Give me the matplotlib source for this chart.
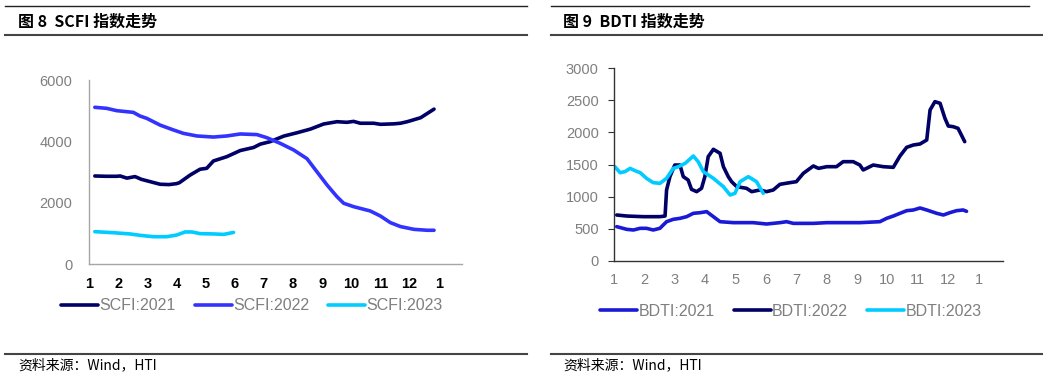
import numpy as np
import matplotlib
matplotlib.use('Agg')
import matplotlib.pyplot as plt
from matplotlib.lines import Line2D

plt.rcParams['font.family'] = ['Liberation Sans', 'Noto Sans CJK SC', 'DejaVu Sans']

month_labels = ['1', '2', '3', '4', '5', '6', '7', '8', '9', '10', '11', '12', '1']

# SCFI (x = months since Jan 1st)
scfi21_x = [0.2, 0.6, 0.95, 1.07, 1.3, 1.58, 1.8, 2.44, 2.75, 3.0, 3.1, 3.47, 3.81, 4.04, 4.27, 4.73, 5.19, 5.65, 5.88, 6.22, 6.68, 7.14, 7.6, 8.05, 8.51, 8.85, 9.08, 9.31, 9.77, 10.0, 10.46, 10.69, 10.92, 11.38, 11.84]
scfi21_y = [2870, 2860, 2860, 2870, 2800, 2850, 2760, 2600, 2590, 2620, 2650, 2900, 3090, 3120, 3360, 3500, 3700, 3800, 3910, 3990, 4170, 4280, 4400, 4565, 4640, 4620, 4650, 4590, 4590, 4555, 4570, 4590, 4640, 4770, 5050]

scfi22_x = [0.2, 0.61, 0.95, 1.52, 1.75, 1.98, 2.44, 2.9, 3.24, 3.7, 4.27, 4.73, 5.19, 5.76, 6.1, 6.56, 7.02, 7.48, 7.82, 8.17, 8.51, 8.74, 9.08, 9.65, 10.0, 10.34, 10.69, 11.15, 11.61, 11.84]
scfi22_y = [5110, 5075, 5000, 4945, 4825, 4750, 4530, 4370, 4260, 4175, 4140, 4175, 4240, 4220, 4120, 3935, 3720, 3435, 3010, 2575, 2195, 1980, 1870, 1730, 1565, 1350, 1220, 1130, 1100, 1100]

scfi23_x = [0.2, 0.84, 1.41, 1.75, 2.21, 2.67, 3.01, 3.3, 3.53, 3.81, 4.27, 4.62, 4.96]
scfi23_y = [1055, 1020, 980, 935, 890, 890, 945, 1045, 1045, 990, 980, 965, 1030]

# BDTI
bdti21_x = [0.09, 0.42, 0.64, 0.86, 1.07, 1.29, 1.51, 1.73, 1.95, 2.17, 2.39, 2.61, 2.83, 3.05, 3.27, 3.49, 3.93, 4.58, 5.02, 5.46, 5.68, 5.9, 6.56, 7.0, 8.09, 8.75, 8.97, 9.19, 9.41, 9.63, 9.85, 10.07, 10.29, 10.62, 10.84, 11.05, 11.27, 11.49, 11.6]
bdti21_y = [534, 492, 482, 508, 508, 482, 508, 611, 648, 663, 689, 741, 751, 767, 689, 611, 596, 596, 575, 596, 611, 585, 585, 596, 596, 611, 663, 699, 741, 782, 793, 824, 793, 741, 715, 751, 782, 793, 772]

bdti22_x = [0.09, 0.42, 0.97, 1.51, 1.68, 1.73, 1.84, 2.0, 2.17, 2.28, 2.44, 2.55, 2.72, 2.88, 2.99, 3.1, 3.27, 3.49, 3.6, 3.76, 3.87, 4.04, 4.36, 4.53, 4.8, 5.02, 5.24, 5.46, 5.79, 6.0, 6.23, 6.56, 6.73, 7.0, 7.32, 7.54, 7.87, 8.09, 8.2, 8.53, 8.86, 9.19, 9.41, 9.63, 9.85, 10.07, 10.29, 10.4, 10.56, 10.73, 10.89, 11.0, 11.16, 11.32, 11.43, 11.54]
bdti22_y = [715, 699, 689, 689, 699, 1104, 1311, 1492, 1492, 1311, 1259, 1114, 1078, 1130, 1311, 1622, 1736, 1674, 1466, 1311, 1233, 1155, 1130, 1078, 1104, 1078, 1104, 1192, 1218, 1233, 1363, 1477, 1440, 1466, 1466, 1544, 1544, 1492, 1415, 1492, 1466, 1456, 1632, 1767, 1803, 1819, 1881, 2347, 2477, 2451, 2218, 2098, 2088, 2062, 1959, 1855]

bdti23_x = [0.03, 0.2, 0.36, 0.53, 0.69, 0.86, 1.07, 1.29, 1.51, 1.73, 1.95, 2.12, 2.34, 2.61, 2.77, 2.94, 3.27, 3.6, 3.82, 3.98, 4.15, 4.42, 4.69, 4.91]
bdti23_y = [1466, 1373, 1389, 1440, 1404, 1373, 1285, 1218, 1207, 1285, 1440, 1466, 1518, 1632, 1544, 1389, 1285, 1155, 1026, 1052, 1233, 1311, 1233, 1052]

W, H = 1043, 378
fig = plt.figure(figsize=(W / 100, H / 100), dpi=100)

navy = '#000066'
blue22 = '#3333ff'
blue21 = '#1a1ad6'
cyan = '#00ccff'
gray = '#7f7f7f'


def px(x, y):
    return x / W, 1 - y / H


def hrule(x0, x1, y, lw, color):
    fig.add_artist(Line2D([x0 / W, x1 / W], [1 - y / H, 1 - y / H], lw=lw, color=color,
                          transform=fig.transFigure))


# title / source rules
hrule(5, 527, 6, 1.0, '#222222')
hrule(5, 527, 35, 1.5, '#444444')
hrule(5, 527, 354, 1.5, '#444444')
hrule(551, 1029, 6, 1.0, '#222222')
hrule(551, 1043, 35, 1.5, '#444444')
hrule(551, 1043, 354, 1.5, '#444444')

tfont = ['Noto Sans CJK SC', 'DejaVu Sans']
fig.text(*px(18, 22), '图 8  SCFI 指数走势', family=tfont, fontsize=11.5, fontweight='bold', va='center')
fig.text(*px(563, 22), '图 9  BDTI 指数走势', family=tfont, fontsize=11.5, fontweight='bold', va='center')
fig.text(*px(18, 365), '资料来源：Wind，HTI', family=tfont, fontsize=10, va='center')
fig.text(*px(563, 365), '资料来源：Wind，HTI', family=tfont, fontsize=10, va='center')

# ---- SCFI
ax1 = fig.add_axes([89 / W, 1 - 264 / H, 373 / W, 184 / H])
ax1.plot(scfi21_x, scfi21_y, color=navy, lw=2.6, label='SCFI:2021', solid_capstyle='round')
ax1.plot(scfi22_x, scfi22_y, color=blue22, lw=2.6, label='SCFI:2022', solid_capstyle='round')
ax1.plot(scfi23_x, scfi23_y, color=cyan, lw=2.6, label='SCFI:2023', solid_capstyle='round')
ax1.set_xlim(0, 12.8)
ax1.set_ylim(0, 6000)
ax1.set_yticks([0, 2000, 4000, 6000])
ax1.set_xticks(range(13))
ax1.set_xticklabels(month_labels, fontweight='bold', color='black')
ax1.tick_params(axis='both', length=0, labelsize=10.5)
ax1.tick_params(axis='y', colors=gray, pad=12)
ax1.tick_params(axis='x', pad=9)
for s in ['top', 'right']:
    ax1.spines[s].set_visible(False)
for s in ['left', 'bottom']:
    ax1.spines[s].set_color('#a6a6a6')
    ax1.spines[s].set_linewidth(1.0)
fig.legend(handles=ax1.get_lines(), loc='center', bbox_to_anchor=px(252, 306), ncol=3,
           frameon=False, fontsize=11.5, handlelength=2.3, handletextpad=0.1,
           columnspacing=1.2, labelcolor=gray)

# ---- BDTI
ax2 = fig.add_axes([614 / W, 1 - 261 / H, 389 / W, 193 / H])
ax2.plot(bdti21_x, bdti21_y, color=blue21, lw=2.6, label='BDTI:2021', solid_capstyle='round')
ax2.plot(bdti22_x, bdti22_y, color=navy, lw=2.6, label='BDTI:2022', solid_capstyle='round')
ax2.plot(bdti23_x, bdti23_y, color=cyan, lw=2.6, label='BDTI:2023', solid_capstyle='round')
ax2.set_xlim(0, 12.8)
ax2.set_ylim(0, 3000)
ax2.set_yticks(np.arange(0, 3001, 500))
ax2.set_xticks(range(13))
ax2.set_xticklabels(month_labels)
ax2.tick_params(axis='both', labelsize=10.5, colors=gray)
ax2.tick_params(axis='x', length=0, pad=9)
ax2.tick_params(axis='y', length=4, color='#333333', pad=7)
for s in ['top', 'right']:
    ax2.spines[s].set_visible(False)
for s in ['left', 'bottom']:
    ax2.spines[s].set_color('#333333')
    ax2.spines[s].set_linewidth(1.0)
fig.legend(handles=ax2.get_lines(), loc='center', bbox_to_anchor=px(791, 311), ncol=3,
           frameon=False, fontsize=11.5, handlelength=2.3, handletextpad=0.1,
           columnspacing=1.2, labelcolor=gray)

fig.savefig('out.png', dpi=100)
